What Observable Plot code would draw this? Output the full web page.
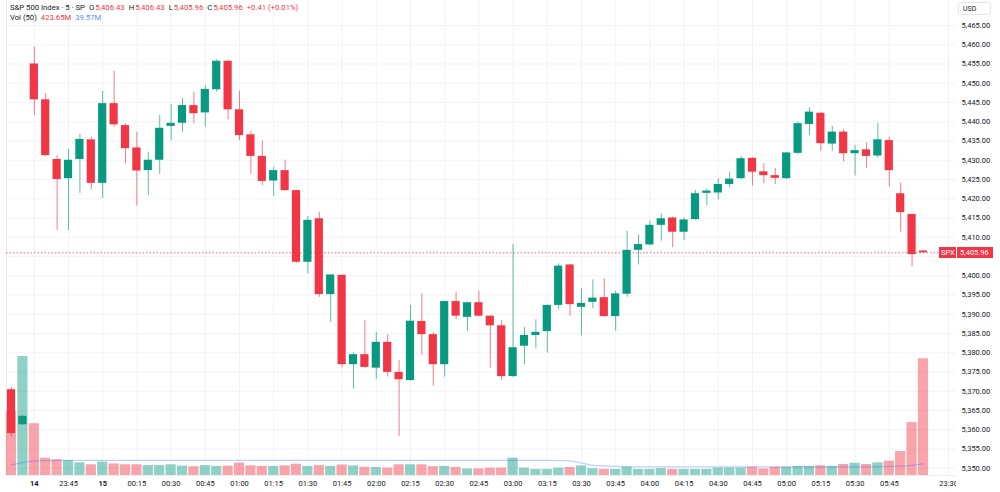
<!DOCTYPE html>
<html><head><meta charset="utf-8">
<script src="https://cdn.jsdelivr.net/npm/d3@7"></script>
<script src="https://cdn.jsdelivr.net/npm/@observablehq/plot@0.6"></script>
<style>
body{margin:0;background:#fff;font-family:Roboto,"Liberation Sans",sans-serif;}
#wrap{position:relative;width:1000px;height:492px;overflow:hidden;background:#fff;}
#wrap svg{position:absolute;left:0;top:0;background:transparent;}
.hdr{position:absolute;left:10px;font-size:7.7px;color:#131722;white-space:nowrap;z-index:5;}
.hdr span{margin-left:1px}
.g{margin-left:4px!important}
.r{color:#f23645}.b{color:#5b8ff5}
.usd{position:absolute;left:958px;top:2px;width:33px;height:13px;border:1px solid #e0e3eb;border-radius:3px;font-size:7px;line-height:12px;padding-left:4px;box-sizing:border-box;color:#131722;background:#fff;z-index:5;}
.tag{position:absolute;height:11px;line-height:11px;font-size:7.5px;color:#fff;background:#f23645;z-index:5;box-sizing:border-box;}
.mask{position:absolute;left:956px;top:476px;width:44px;height:16px;background:#fff;z-index:4;}
</style></head><body><div id="wrap"></div>
<script>
// ---- data ----
const opens  = [5370.4,5361.3,5455.0,5445.7,5430.2,5425.2,5430.2,5435.3,5424.0,5444.7,5439.0,5433.2,5427.3,5430.0,5438.8,5439.6,5444.2,5442.3,5448.3,5455.7,5443.1,5436.6,5431.0,5424.6,5427.3,5422.1,5403.5,5414.8,5395.1,5400.1,5376.9,5379.5,5376.0,5382.7,5374.9,5372.8,5388.1,5384.7,5376.9,5393.3,5389.2,5393.0,5389.5,5387.0,5373.8,5381.7,5384.5,5385.5,5392.3,5402.8,5391.8,5393.1,5394.3,5389.4,5395.2,5406.6,5408.0,5413.1,5415.0,5411.3,5414.6,5421.4,5421.5,5423.7,5425.2,5430.5,5427.0,5426.0,5425.2,5431.8,5439.3,5442.2,5434.2,5437.3,5431.7,5432.7,5431.1,5435.1,5421.3,5415.9,5406.43];
const highs  = [5371.1,5363.6,5459.4,5447.3,5431.2,5432.8,5436.7,5436.0,5447.9,5453.1,5439.4,5437.3,5432.1,5441.6,5444.5,5446.0,5447.7,5449.4,5456.1,5456.0,5447.9,5437.5,5435.0,5428.2,5430.0,5422.2,5415.4,5416.5,5400.3,5400.2,5380.0,5388.4,5385.3,5384.7,5378.0,5392.3,5395.3,5385.2,5393.4,5395.7,5393.1,5396.0,5389.6,5388.4,5408.1,5386.6,5388.6,5392.4,5403.1,5402.9,5396.6,5398.9,5399.2,5396.0,5411.5,5410.5,5414.2,5416.1,5415.3,5415.0,5422.1,5422.6,5425.2,5426.9,5431.0,5430.6,5429.1,5427.9,5432.0,5440.0,5443.6,5442.3,5438.8,5437.9,5433.8,5434.5,5439.6,5436.0,5424.1,5416.0,5406.43];
const lows   = [5358.1,5361.2,5441.6,5431.0,5411.8,5411.8,5421.4,5422.3,5420.1,5438.6,5429.1,5418.1,5420.8,5426.3,5435.0,5437.3,5439.5,5438.6,5447.7,5440.5,5435.1,5426.3,5423.4,5420.6,5422.0,5403.3,5400.5,5394.4,5387.9,5376.1,5370.6,5376.0,5373.1,5373.7,5358.3,5372.6,5379.3,5371.3,5373.7,5388.6,5385.6,5389.4,5376.0,5372.8,5373.6,5376.9,5381.0,5379.9,5391.2,5389.5,5384.4,5391.4,5389.2,5385.6,5394.4,5402.8,5407.8,5409.0,5407.3,5409.2,5414.4,5418.2,5419.7,5422.8,5425.0,5423.3,5423.9,5423.7,5425.0,5431.4,5436.4,5432.3,5432.3,5429.5,5425.9,5427.9,5430.5,5423.0,5411.3,5402.4,5405.96];
const closes = [5359.0,5363.5,5445.7,5431.2,5425.0,5430.0,5435.4,5424.0,5444.7,5439.2,5433.0,5427.2,5430.0,5438.3,5439.6,5444.2,5442.1,5448.4,5455.7,5443.1,5436.4,5431.0,5424.5,5427.3,5422.1,5403.5,5414.4,5395.1,5400.2,5376.9,5379.5,5376.2,5382.7,5374.9,5373.0,5388.2,5384.7,5376.9,5393.3,5389.5,5393.0,5389.5,5387.0,5373.8,5381.3,5384.5,5385.3,5392.3,5402.5,5392.5,5392.8,5394.2,5389.4,5395.3,5406.6,5408.1,5413.1,5414.8,5411.3,5414.5,5421.3,5422.0,5423.7,5425.1,5430.4,5426.9,5426.0,5425.3,5431.9,5439.5,5442.5,5434.3,5437.3,5431.7,5432.5,5431.0,5435.3,5427.3,5416.4,5405.5,5405.96];
// volume in millions
const volumes = [232,432,188,63,57,54,46,39,49,42,39,39,36,36,39,34,32,36,33,34,45,35,33,33,35,41,33,36,33,38,35,30,29,27,39,39,39,32,33,29,24,24,27,27,63,27,22,22,27,29,35,25,22,22,30,22,22,25,22,22,22,22,27,27,27,30,24,30,30,33,33,35,33,40,44,40,46,52,87,192,423.65];
const volumeMA = [39,47,52,54,55,55,55,55,55,55,55,55,55,55,55,55,55,55,55,55,55,55,55,55,55,55,55,55,55,55,55,55,55,55,55,55,55,55,55,55,55,55,55,55,55,55,55,55,54,53,45,37,35,33,32,31,31,31,31,31,31,31,31,31,31,31,31,31,31,31,31,31,31,31,31,31,32,33,34,37,42];
const timeTickIdx = [2,5,8,11,14,17,20,23,26,29,32,35,38,41,44,47,50,53,56,59,62,65,68,71,74,77,82.2];
const timeTickLabels = ["14","23:45","15","00:15","00:30","00:45","01:00","01:15","01:30","01:45","02:00","02:15","02:30","02:45","03:00","03:15","03:30","03:45","04:00","04:15","04:30","04:45","05:00","05:15","05:30","05:45","23:30"];
const dayLabels = ["14","15"];
const priceTicks = [5350,5355,5360,5365,5370,5375,5380,5385,5390,5395,5400,5405,5410,5415,5420,5425,5430,5435,5440,5445,5450,5455,5460,5465];
const symbolTitle = "S&P 500 Index · 5 · SP";
const changeText = "+0.41 (+0.01%)";
const maValueText = "39.57M";
const symbolTag = "SPX";

// ---- layout ----
const W = 1000, H = 492;
const base = {width: W, height: H, marginLeft: 6, marginRight: 45, marginTop: 0, marginBottom: 17,
  style: {background: "transparent", fontFamily: "Roboto, 'Liberation Sans', sans-serif"}};
const xOpt = {type: "linear", domain: [-0.44, 82.81], axis: null};
const yPrice = {domain: [5348.12, 5471.49], axis: null};
const UP = "#089981", DN = "#f23645";
const bars = opens.map((o, i) => ({i, o, h: highs[i], l: lows[i], c: closes[i], v: volumes[i], ma: volumeMA[i], col: closes[i] >= o ? UP : DN}));
const last = bars[bars.length - 1];
const fmtPrice = d3.format(",.2f");
const labelOf = d => timeTickLabels[timeTickIdx.indexOf(d)];
const dayIdx = timeTickIdx.filter(d => dayLabels.includes(labelOf(d)));
const timeIdx = timeTickIdx.filter(d => !dayLabels.includes(labelOf(d)));
// the last-price tag hides the axis label it sits on
const labelTicks = priceTicks.filter(p => Math.abs(p - last.c) > 2.5);

const gridPlot = Plot.plot({...base, x: xOpt, y: yPrice,
  marks: [
    Plot.ruleY(priceTicks, {stroke: "#f0f3fa", strokeWidth: 1}),
    Plot.ruleX(timeTickIdx, {stroke: "#f0f3fa", strokeWidth: 1}),
    Plot.frame({anchor: "left", stroke: "#e8eaef"}),
    Plot.frame({anchor: "bottom", stroke: "#eceef2"}),
    Plot.axisY(labelTicks, {anchor: "right", tickSize: 0, tickPadding: 6, tickFormat: fmtPrice, fontSize: 7.5, fill: "#131722"}),
    Plot.axisX(timeIdx, {anchor: "bottom", tickSize: 0, tickPadding: 5, tickFormat: labelOf, fontSize: 7.5, fill: "#131722"}),
    Plot.axisX(dayIdx, {anchor: "bottom", tickSize: 0, tickPadding: 5, tickFormat: labelOf, fontSize: 7.5, fontWeight: "bold", fill: "#131722"})
  ]});

const volPlot = Plot.plot({...base, x: xOpt, y: {domain: [0, 1724], axis: null}, color: {type: "identity"},
  marks: [
    Plot.rectY(bars, {x1: d => d.i - 0.5, x2: d => d.i + 0.5, y1: 0, y2: "v", fill: "col", fillOpacity: 0.45, insetLeft: 0.6, insetRight: 0.6}),
    Plot.lineY(bars, {x: "i", y: "ma", stroke: "#2962ff", strokeOpacity: 0.3, strokeWidth: 1.2, curve: "monotone-x"})
  ]});

const candlePlot = Plot.plot({...base, x: xOpt, y: yPrice, color: {type: "identity"},
  marks: [
    Plot.ruleY([last.c], {stroke: DN, strokeOpacity: 0.75, strokeDasharray: "1.5,2"}),
    Plot.ruleX(bars, {x: "i", y1: "l", y2: "h", stroke: "col", strokeOpacity: 0.65}),
    Plot.rect(bars, {x1: d => d.i - 0.5, x2: d => d.i + 0.5, y1: "o", y2: "c", fill: "col", insetLeft: 1.6, insetRight: 1.6})
  ]});

const wrap = document.getElementById("wrap");
wrap.append(gridPlot, volPlot, candlePlot);

// legend / header
const h1 = document.createElement("div");
h1.className = "hdr"; h1.style.top = "3px";
h1.innerHTML = `${symbolTitle.replace("&","&amp;")}<span class="g">O</span><span class="r">${fmtPrice(last.o)}</span><span class="g">H</span><span class="r">${fmtPrice(last.h)}</span><span class="g">L</span><span class="r">${fmtPrice(last.l)}</span><span class="g">C</span><span class="r">${fmtPrice(last.c)}</span><span class="r g">${changeText}</span>`;
const h2 = document.createElement("div");
h2.className = "hdr"; h2.style.top = "13px";
h2.innerHTML = `Vol (50)<span class="r g">${last.v.toFixed(2)}M</span><span class="b g">${maValueText}</span>`;
const usd = document.createElement("div"); usd.className = "usd"; usd.textContent = "USD";
const mask = document.createElement("div"); mask.className = "mask";
const yLast = candlePlot.scale("y").apply(last.c);
const t1 = document.createElement("div"); t1.className = "tag";
t1.style.left = "939px"; t1.style.width = "17px"; t1.style.top = (yLast - 5.5) + "px"; t1.style.paddingLeft = "2px"; t1.textContent = symbolTag;
const t2 = document.createElement("div"); t2.className = "tag";
t2.style.left = "957px"; t2.style.width = "36px"; t2.style.top = (yLast - 5.5) + "px"; t2.style.paddingLeft = "3px"; t2.textContent = fmtPrice(last.c);
wrap.append(mask, h1, h2, usd, t1, t2);
</script></body></html>
